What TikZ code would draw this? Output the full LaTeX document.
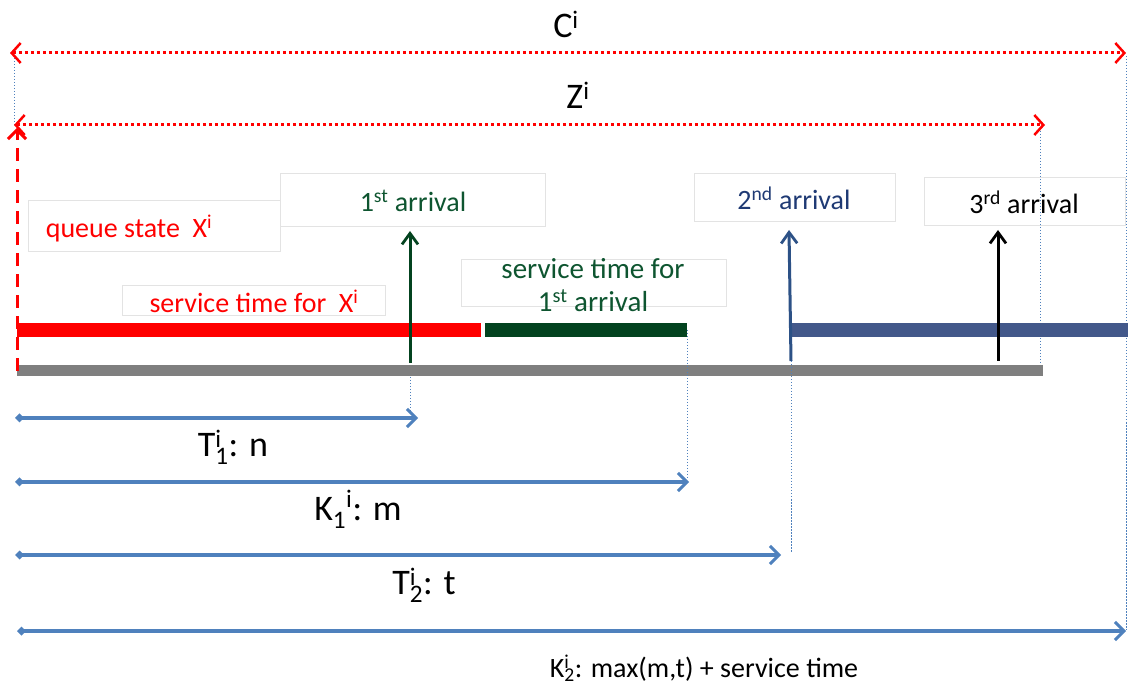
\documentclass[tikz,border=0pt]{standalone}
\usepackage{fontspec}
\setmainfont{Carlito}
\usetikzlibrary{arrows.meta}
\definecolor{qred}{HTML}{FF0000}
\definecolor{qgreen}{HTML}{03431F}
\definecolor{qgreentxt}{HTML}{0E5530}
\definecolor{qnavy}{HTML}{43588A}
\definecolor{qnavytxt}{HTML}{1F3A74}
\definecolor{qnavyarr}{HTML}{2C5186}
\definecolor{qblue}{HTML}{4F81BD}
\definecolor{qgray}{HTML}{7F7F7F}
\definecolor{qbox}{HTML}{E3E3E3}
\newcommand{\fs}[1]{\fontsize{#1}{#1}\selectfont}
\newcommand{\supsub}[2]{\makebox[0pt][l]{\textsuperscript{#1}}\textsubscript{#2}}
\begin{document}
\begin{tikzpicture}[x=1pt,y=-1pt,
  tbox/.style={draw=qbox, line width=1pt, fill=white, anchor=north west, inner sep=0pt},
  reddot/.style={draw=qred, line width=3pt, dash pattern=on 3pt off 3pt,
     {Straight Barb[length=9pt,width=20pt,line width=2.5pt]}-{Straight Barb[length=9pt,width=20pt,line width=2.5pt]}},
  bluedot/.style={draw=qblue, line width=1pt, dash pattern=on 1.5pt off 1.5pt},
  bluearr/.style={draw=qblue, line width=3.5pt,
     {Diamond[length=9pt,width=9pt]}-{Straight Barb[length=9pt,width=18pt,line width=3pt]}},
  uparr/.style={line width=3pt, -{Straight Barb[length=11pt,width=16pt,line width=2.8pt]}},
  lbl/.style={font=\fs{28}, inner sep=0pt},
  blbl/.style={font=\fs{36}, inner sep=0pt},
  bar/.style={inner sep=0pt, anchor=north west, minimum height=14pt}
]
\useasboundingbox (0,0) rectangle (1128,692);

% boxes
\node[tbox, minimum width=252pt, minimum height=51pt] (qsbox) at (28,200) {};
\node[lbl, text=qred] (qs) at (129,229) {queue state\ \ X\textsuperscript{i}};
\node[tbox, minimum width=265pt, minimum height=53pt] (a1box) at (280,173) {};
\node[lbl, text=qgreentxt] (a1) at (413,201) {1\textsuperscript{st} arrival};
\node[tbox, minimum width=201pt, minimum height=48pt] (a2box) at (694,173) {};
\node[lbl, text=qnavytxt] (a2) at (794,198) {2\textsuperscript{nd} arrival};
\node[tbox, minimum width=201pt, minimum height=48pt] (a3box) at (924,177) {};
\node[lbl, text=black] (a3) at (1024,202) {3\textsuperscript{rd} arrival};
\node[tbox, minimum width=263pt, minimum height=30pt] (sxbox) at (122,285) {};
\node[lbl, text=qred] (sx) at (254,301) {service time for\ \ X\textsuperscript{i}};
\node[tbox, minimum width=265pt, minimum height=47pt] (s1box) at (461,259) {};
\node[lbl, text=qgreentxt, align=center, font=\fontsize{29}{33}\selectfont] (s1) at (593,285) {service time for\\1\textsuperscript{st} arrival};

% top spans
\coordinate (cL) at (10,53);
\coordinate (cR) at (1126,53);
\coordinate (zL) at (14,125);
\coordinate (zR) at (1045,125);
\draw[bluedot] (14,55) coordinate (dl1) -- (zL);
\draw[bluedot] (1126,56) coordinate (dr1) -- (1126,630) coordinate (dr2);
\draw[bluedot] (1040,128) coordinate (dz1) -- (1040,366) coordinate (dz2);
\draw[reddot] (cL) -- (cR);
\draw[reddot] (zL) -- (zR);
\node[blbl] (clab) at (566,24) {C\textsuperscript{i}};
\node[blbl] (zlab) at (578,95) {Z\textsuperscript{i}};

% bars
\node[bar, fill=qred, minimum width=464pt] (redbar) at (17,323) {};
\node[bar, fill=qgreen, minimum width=202pt] (greenbar) at (485,323) {};
\node[bar, fill=qnavy, minimum width=337pt] (navybar) at (791,323) {};
\node[bar, fill=qgray, minimum width=1026pt, minimum height=11pt] (graybar) at (17,365) {};

% queue state arrow
\coordinate (q0) at (17,371);
\coordinate (q1) at (17,128);
\draw[qred, line width=3pt, dash pattern=on 13pt off 8pt,
  -{Straight Barb[length=9pt,width=18pt,line width=3pt]}] (q0) -- (q1);

% arrival arrows
\coordinate (g0) at (410,363);
\coordinate (g1) at (410,231);
\draw[uparr, qgreen] (g0) -- (g1);
\coordinate (n0) at (791,361);
\coordinate (n1) at (789,230);
\draw[uparr, qnavyarr] (n0) -- (n1);
\coordinate (b0) at (998,361);
\coordinate (b1) at (998,230);
\draw[uparr, black] (b0) -- (b1);

% dotted drops
\draw[bluedot] (410,377) -- (410,411);
\draw[bluedot] (687,330) -- (687,478);
\draw[bluedot] (791,361) -- (791,552);

% bottom measures
\coordinate (t1L) at (15,418); \coordinate (t1R) at (418,418);
\coordinate (k1L) at (15,482); \coordinate (k1R) at (689,482);
\coordinate (t2L) at (15,555); \coordinate (t2R) at (781,555);
\coordinate (k2L) at (17,631); \coordinate (k2R) at (1126,631);
\draw[bluearr] (t1L) -- (t1R);
\draw[bluearr] (k1L) -- (k1R);
\draw[bluearr] (t2L) -- (t2R);
\draw[bluearr] (k2L) -- (k2R);
\node[blbl] (t1lab) at (233,447) {T\supsub{i}{1}: n};
\node[blbl] (k1lab) at (358,509) {K\textsubscript{1}\raisebox{4pt}{\textsuperscript{i}}: m};
\node[blbl] (t2lab) at (424,585) {T\supsub{i}{2}: t};
\node[lbl] (k2lab) at (704,668) {K\supsub{i}{2}: max(m,t) + service time};
\end{tikzpicture}
\end{document}
